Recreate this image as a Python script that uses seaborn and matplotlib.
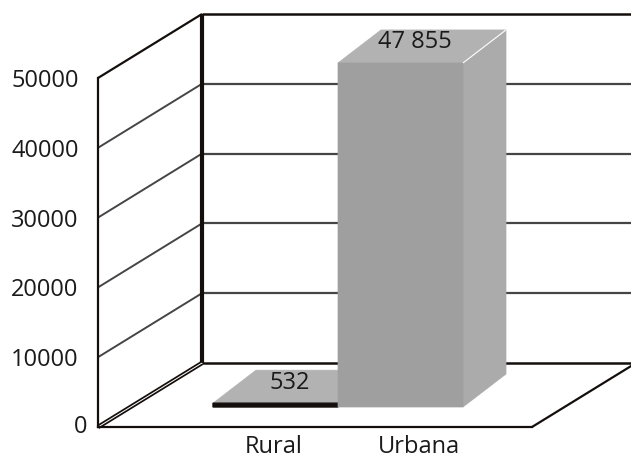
import matplotlib
matplotlib.use("Agg")
import matplotlib.pyplot as plt
import pandas as pd
import seaborn as sns
from matplotlib.patches import Polygon
from matplotlib.transforms import ScaledTranslation

# data
categories = ["Rural", "Urbana"]
values = [532, 47855]
y_ticks = [0, 10000, 20000, 30000, 40000, 50000]

W, H, DPI = 631, 459, 100
FRONT = "#9f9f9f"
SIDE = "#ababab"
TOP = "#b2b2b2"
GRID = "#454545"
INK = "#140f0c"

sns.set_theme(style="white")
plt.rcParams["font.family"] = ["Open Sans", "DejaVu Sans"]
plt.rcParams["font.size"] = 17

fig = plt.figure(figsize=(W / DPI, H / DPI), dpi=DPI)
# axes = front plane of the 3d box (pixels: left 98, right 532, bottom 427, top 78)
ax = fig.add_axes([98 / W, (H - 427) / H, (532 - 98) / W, (427 - 78) / H])

df = pd.DataFrame({"zona": categories, "total": values})
sns.barplot(data=df, x="zona", y="total", color=FRONT, saturation=1,
            width=1.0, ax=ax)

xmin, xmax = -1.164, 2.308
ax.set_xlim(xmin, xmax)
ax.set_ylim(0, 50000)
ax.set_xlabel("")
ax.set_ylabel("")

# pixel -> data units
ux = (xmax - xmin) / (532 - 98)
uy = 50000 / (427 - 78)


def px(dx, dy):
    return dx * ux, dy * uy


wall_dx, wall_dy = px(104, 64)   # depth of the floor
bf_dx, bf_dy = px(32, 20)        # front of the bars inside the box
bd_dx, bd_dy = px(43, 33)        # depth of a bar
persp = 1.03                     # bars sit nearer the eye than the front axis

far = xmax + 3
line = dict(clip_on=False, solid_capstyle="butt")

# walls and grid
for t in y_ticks[1:-1]:
    ax.plot([xmin, xmin + wall_dx], [t, t + wall_dy], color=GRID, lw=1.4, zorder=1, **line)
    ax.plot([xmin + wall_dx, far], [t + wall_dy] * 2, color=GRID, lw=1.6, zorder=1, **line)
top = y_ticks[-1]
ax.plot([xmin, xmin + wall_dx], [top, top + wall_dy], color=INK, lw=1.6, zorder=2, **line)
ax.plot([xmin + wall_dx, far], [top + wall_dy] * 2, color=INK, lw=1.8, zorder=2, **line)
ax.plot([xmin + wall_dx] * 2, [wall_dy, top + wall_dy], color=INK, lw=3, zorder=2, **line)
ax.plot([xmin + wall_dx, far], [wall_dy] * 2, color=INK, lw=1.8, zorder=2, **line)
ax.plot([xmax, xmax + wall_dx], [0, wall_dy], color=INK, lw=1.6, zorder=2, **line)
# double line on the left floor edge
ax.plot([xmin, xmin + wall_dx], [0, wall_dy], color=INK, lw=3.2, zorder=2, **line)
ax.plot([xmin, xmin + wall_dx], [0, wall_dy], color="white", lw=0.7, zorder=2, **line)

# bars: move the seaborn front faces back, then add top and side faces
for i, p in enumerate(ax.patches):
    x0 = p.get_x() + bf_dx
    x1 = x0 + p.get_width()
    y0 = bf_dy
    y1 = y0 + p.get_height() * persp
    p.set_x(x0)
    p.set_y(y0)
    p.set_height(y1 - y0)
    p.set_clip_on(False)
    p.set_snap(False)
    p.set_edgecolor(FRONT)
    p.set_linewidth(0.5)
    p.set_zorder(5 + 3 * i + 2)
    thin = (y1 - y0) / uy < 8
    if thin:
        p.set_facecolor(INK)
        p.set_edgecolor(INK)
        p.set_linewidth(1.0)
    ax.add_patch(Polygon([(x1, y0), (x1, y1), (x1 + bd_dx, y1 + bd_dy), (x1 + bd_dx, y0 + bd_dy)],
                         closed=True, facecolor=SIDE, edgecolor=SIDE, lw=0.5,
                         zorder=5 + 3 * i, clip_on=False))
    ax.add_patch(Polygon([(x0, y1), (x1, y1), (x1 + bd_dx, y1 + bd_dy), (x0 + bd_dx, y1 + bd_dy)],
                         closed=True, facecolor=TOP, edgecolor=TOP, lw=0.5,
                         zorder=5 + 3 * i + 1, clip_on=False))
    if not thin:
        ax.plot([x1, x1 + bd_dx], [y1, y1 + bd_dy], color="white", lw=0.8,
                zorder=5 + 3 * i + 2, **line)
    lx, ly = px(-7, 4)
    ax.text((x0 + x1) / 2 + bd_dx / 2 + lx, y1 + bd_dy / 2 + ly,
            f"{values[i]:,}".replace(",", " "), ha="center", va="center",
            color="#1a1a1a", fontsize=17, zorder=20, clip_on=False)

# axes look
for s in ["top", "right"]:
    ax.spines[s].set_visible(False)
for s in ["left", "bottom"]:
    ax.spines[s].set_color(INK)
    ax.spines[s].set_linewidth(1.6)
    ax.spines[s].set_zorder(3)
ax.set_yticks(y_ticks)
ax.set_yticklabels([str(t) for t in y_ticks])
ax.tick_params(axis="y", length=0, pad=14, labelsize=17, labelcolor="#1a1a1a")
ax.tick_params(axis="x", length=0, pad=6, labelsize=17, labelcolor="#1a1a1a")
ax.set_facecolor("none")

# excel nudges the axis labels a little
ylabs = ax.get_yticklabels()
ylabs[0].set_transform(ylabs[0].get_transform() + ScaledTranslation(9 / DPI, 3 / DPI, fig.dpi_scale_trans))
for lab, shift in zip(ax.get_xticklabels(), [30, 50]):
    lab.set_transform(lab.get_transform() + ScaledTranslation(shift / DPI, 0, fig.dpi_scale_trans))

fig.savefig("out.png", dpi=DPI, facecolor="white")
